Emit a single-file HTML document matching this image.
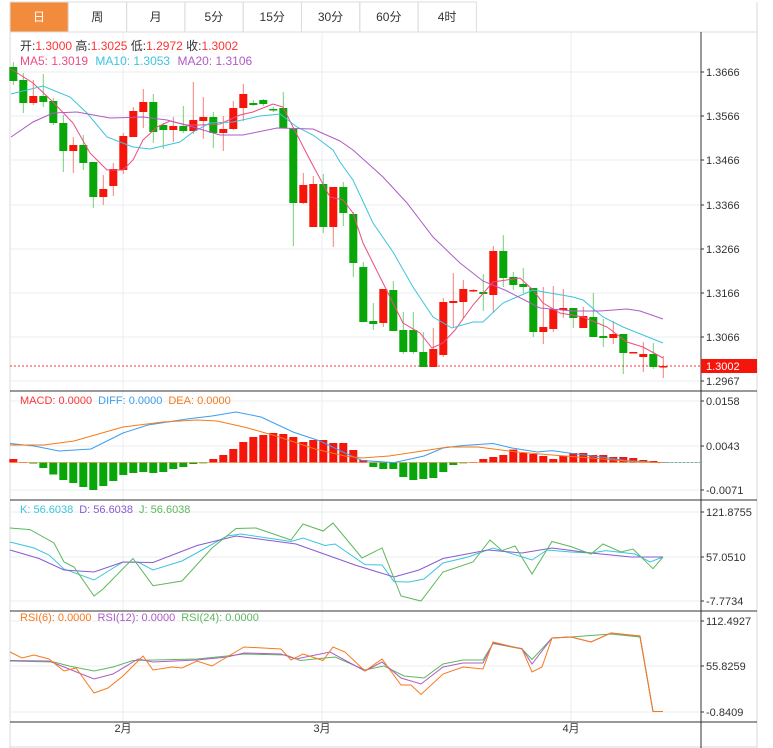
<!DOCTYPE html>
<html><head><meta charset="utf-8"><style>
body{margin:0;background:#fff;}
svg{display:block;font-family:"Liberation Sans","Noto Sans CJK SC",sans-serif;}
</style></head><body>
<svg id="s" width="773" height="748" xmlns="http://www.w3.org/2000/svg"></svg>
<script>
var s=document.getElementById('s');var h='';
function L(x1,y1,x2,y2,c,w,d,o){h+='<line x1="'+x1+'" y1="'+y1+'" x2="'+x2+'" y2="'+y2+'" stroke="'+c+'" stroke-width="'+(w||1)+'"'+(d?' stroke-dasharray="'+d+'"':'')+(o?' opacity="'+o+'"':'')+'/>';}
function R(x,y,w,hh,c,o){h+='<rect x="'+x+'" y="'+y+'" width="'+w+'" height="'+hh+'" fill="'+c+'"'+(o?' opacity="'+o+'"':'')+'/>';}
function T(x,y,t,c,sz,a){h+='<text x="'+x+'" y="'+y+'" fill="'+c+'" font-size="'+(sz||11)+'"'+(a?' text-anchor="'+a+'"':'')+'>'+t+'</text>';}
function P(pts,c,w){var d=pts.map(function(p,i){return (i?'L':'M')+p[0]+' '+p[1]}).join(' ');h+='<path d="'+d+'" fill="none" stroke="'+c+'" stroke-width="'+(w||1)+'"/>';}
var tabs=['日','周','月','5分','15分','30分','60分','4时'];
for(var i=0;i<8;i++){var x=10+i*58.3;
 if(i==0)R(x,2,58.3,30,'#f28c3c');
 h+='<rect x="'+x+'" y="2" width="58.3" height="30" fill="none" stroke="#dcdcdc"/>';
 T(x+29,21,tabs[i],i==0?'#fff':'#333',12,'middle');}
L(476,32,757,32,'#dcdcdc');
L(10,32,10,748,'#d8d8d8');L(757,2,757,748,'#d8d8d8');L(10,747,757,747,'#d8d8d8');
var g='#e8eef2';
[72,116,160,205,249,293,337,381].forEach(function(y){L(10,y,701,y,g)});
[401,446,490,512,557,601,621,666,712].forEach(function(y){L(10,y,701,y,g)});
[123,322,571].forEach(function(x){L(x,32,x,722,g)});
[391,500,611,722].forEach(function(y){L(10,y,757,y,'#333')});
L(701,32,701,748,'#333');
var al=[[72,'1.3666'],[116,'1.3566'],[160,'1.3466'],[205,'1.3366'],[249,'1.3266'],[293,'1.3166'],[337,'1.3066'],[381,'1.2967'],
[401,'0.0158'],[446,'0.0043'],[490,'-0.0071'],[512,'121.8755'],[557,'57.0510'],[601,'-7.7734'],[621,'112.4927'],[666,'55.8259'],[712,'-0.8409']];
al.forEach(function(a){L(701,a[0],704,a[0],'#333');T(706,a[0]+4,a[1],'#333',11);});
L(10,366,701,366,'#f33','1','2,2');
R(701,359,56,14,'#f5150a');T(706,370,'1.3002','#fff',11);
T(123,732,'2月','#333',11,'middle');T(322,732,'3月','#333',11,'middle');T(571,732,'4月','#333',11,'middle');
var C=[[67,81,62,85,'g'],[80,103,73,113,'g'],[96,103,80,105,'r'],[96,102,74,107,'g'],[101,123,98,125,'g'],[123,151,115,172,'g'],[145,151,137,173,'r'],[145,163,135,170,'g'],[162,197,162,208,'g'],[189,197,175,205,'r'],
[169,186,163,196,'r'],[136,170,133,174,'r'],[111,137,107,137,'r'],[102,112,89,128,'r'],[102,132,94,143,'g'],[125,130,123,149,'g'],[126,130,117,142,'r'],[126,131,106,133,'g'],[120,131,82,134,'r'],[117,121,97,139,'r'],
[117,133,112,148,'g'],[129,133,116,151,'r'],[108,129,101,130,'r'],[94,108,84,121,'r'],[103,105,100,106,'g'],[100,104,99,106,'g'],[109,110,107,112,'g'],[108,128,92,128,'g'],[128,203,128,246,'g'],[185,203,173,204,'r'],
[184,227,176,227,'r'],[184,227,174,233,'g'],[187,227,187,247,'r'],[187,213,182,226,'g'],[214,263,212,277,'g'],[267,322,262,322,'g'],[321,324,303,330,'g'],[289,323,289,327,'r'],[290,331,281,331,'g'],[330,352,312,354,'g'],
[330,352,312,354,'g'],[352,367,332,367,'g'],[349,367,328,367,'r'],[302,355,298,357,'r'],[301,303,273,327,'r'],[289,302,280,318,'r'],[290,291,289,292,'r'],[292,294,274,311,'g'],[251,295,246,313,'r'],[251,278,235,287,'g'],
[277,285,272,290,'g'],[284,287,268,293,'g'],[288,332,288,337,'g'],[327,332,287,344,'r'],[309,329,286,332,'r'],[308,310,289,318,'r'],[308,318,308,328,'g'],[316,328,307,328,'r'],[317,337,293,337,'g'],[336,338,319,347,'g'],
[334,338,321,344,'r'],[334,353,334,374,'g'],[352,353,352,353,'r'],[354,357,342,372,'r'],[354,367,343,369,'g'],[366,367,356,378,'r']];
C.forEach(function(c,i){var x=13.3+10*i;var col=c[4]=='r'?'#f5150a':'#08a608';
 L(x,c[2],x,c[3],col,1,null,0.55);R(x-4,c[0],8,Math.max(1.5,c[1]-c[0]),col);});
P([[11,69],[33,83],[53,102],[73,123],[90,153],[107,170],[123,170],[133,160],[143,140],[157,127],[170,121],[187,125],[200,125],[220,124],[240,115],[253,112],[273,104],[283,107],[293,127],[310,160],[330,197],[343,200],[353,213],[363,243],[383,283],[403,323],[420,333],[432,348],[443,343],[455,330],[473,305],[493,282],[520,278],[533,290],[543,303],[560,313],[583,317],[607,327],[627,342],[643,347],[663,358]],'#ee4b82');
P([[11,94],[43,86],[70,97],[87,113],[107,137],[133,147],[150,149],[180,142],[193,132],[210,123],[233,122],[260,116],[280,114],[297,127],[313,135],[333,150],[340,162],[353,180],[373,223],[393,252],[413,287],[433,317],[452,328],[473,322],[483,322],[503,303],[533,290],[573,297],[583,300],[603,317],[623,327],[663,343]],'#3cc4dc');
P([[11,137],[33,122],[53,113],[77,112],[110,118],[143,117],[167,120],[193,127],[220,135],[243,135],[277,128],[313,129],[340,141],[353,150],[383,177],[407,203],[433,237],[460,263],[483,281],[507,291],[540,308],[573,311],[600,311],[627,309],[640,311],[663,319]],'#b05ac8');
h+='<text x="20" y="50" font-size="12" fill="#333">开:<tspan fill="#f33">1.3000</tspan>  高:<tspan fill="#f33">1.3025</tspan>  低:<tspan fill="#f33">1.2972</tspan>  收:<tspan fill="#f33">1.3002</tspan></text>';
h+='<text x="20" y="65" font-size="12"><tspan fill="#ee4b82">MA5: 1.3019</tspan>  <tspan fill="#3cc4dc" dx="4">MA10: 1.3053</tspan>  <tspan fill="#b05ac8" dx="4">MA20: 1.3106</tspan></text>';
h+='<text x="20" y="404" font-size="11"><tspan fill="#f33">MACD: 0.0000</tspan><tspan fill="#3d9df0" dx="6">DIFF: 0.0000</tspan><tspan fill="#f77a1a" dx="6">DEA: 0.0000</tspan></text>';
h+='<text x="20" y="513" font-size="11"><tspan fill="#3cc4dc">K: 56.6038</tspan><tspan fill="#8a5ad0" dx="6">D: 56.6038</tspan><tspan fill="#5cb85c" dx="6">J: 56.6038</tspan></text>';
h+='<text x="20" y="621" font-size="11"><tspan fill="#f77a1a">RSI(6): 0.0000</tspan><tspan fill="#b05ac8" dx="6">RSI(12): 0.0000</tspan><tspan fill="#5cb85c" dx="6">RSI(24): 0.0000</tspan></text>';
var M=[459,462,463.5,468,474.5,480,483,487,490,486,481,475,473,472,473,472,469,467,464,463,459,455,449,442,437,435,433,434,437,442,440,440,443,443,450,460,467,469,469,477,480,479,478,472,465,463,462,459,457,455,449.6,453,454,456,459,456,453,453,455,455,457,457,458,460,461,462];
var Z=462.5;
M.forEach(function(v,i){var x=13.3+10*i;if(v<Z)R(x-4,v,8,Z-v,'#f5150a');else R(x-4,Z,8,Math.max(0.8,v-Z),'#08a608');});
L(10,Z,700,Z,'#f77a1a',0.6);
L(663,Z,700,Z,'#3cc4dc',1,'2,2');
P([[10,443.5],[34,446],[59,451],[91,449],[123,433],[148,425],[187,419],[212,416],[236,412],[261,417],[293,432],[320,441],[345,453],[362,460.5],[394,462.6],[424,456],[443,448],[463,445.5],[493,443.5],[512,448],[537,452],[552,450.6],[576,454],[601,457],[626,460.5],[660,462.6]],'#3d9df0');
P([[10,445],[44,445],[74,441],[123,427],[163,422],[197,420],[217,421],[246,427.5],[276,436],[315,449],[345,456],[362,458],[389,456],[429,450],[448,447],[478,447],[517,452],[552,455],[591,458],[631,461.5],[660,462.6]],'#f77a1a');
P([[10,542],[34,548],[49,555],[64,569],[94,580],[123,562],[138,562],[153,570],[182,561],[202,550],[227,536],[241,534],[291,541.5],[303,538],[325,545.5],[335,544],[365,564.6],[382,565],[394,581.6],[409,582],[424,579],[443,563],[468,557],[493,548],[502,550.6],[532,560],[547,550],[571,552],[591,553],[606,550.6],[635,554],[650,562],[663,557]],'#3cc4dc');
P([[10,550],[39,558.5],[64,570],[94,572],[123,562],[153,562.5],[197,545.5],[236,536],[296,544],[355,565],[394,577],[419,570],[443,558.5],[488,550],[522,553],[552,548],[591,553],[631,557],[663,557]],'#8a5ad0');
P([[10,528],[30,529.6],[54,543],[64,562],[74,567],[94,596],[103,589],[133,558.5],[153,585.7],[182,581],[212,548],[236,528.5],[256,528],[291,540],[303,524],[323,531],[333,523],[362,558],[382,548],[401,596],[421,601],[443,572],[473,562],[490,540],[502,550.6],[515,546],[532,574],[552,541.5],[571,546.6],[591,554],[603,544],[621,552],[633,549],[653,568.7],[663,557]],'#5cb85c');
P([[10,661],[54,662],[69,666],[94,671],[113,667],[133,660.5],[197,659],[227,656],[244,654],[286,655],[300,660.5],[335,657],[365,670],[384,666],[404,676],[424,678],[443,664],[463,660],[483,660],[493,643.5],[522,649],[532,659.5],[552,638],[571,637],[611,634],[640,637],[653,711.5],[663,711.5]],'#5cb85c');
P([[10,660.5],[49,661],[64,667],[94,679],[113,674],[138,659],[153,662],[197,660],[227,657],[244,653],[281,654],[296,659],[330,652],[365,671],[382,662],[401,678],[421,684],[443,667],[463,663],[483,663],[493,643],[522,648.6],[532,664],[552,638],[571,637],[591,642],[611,633],[640,636],[653,711.5],[663,711.5]],'#b05ac8');
P([[10,652],[22,658],[34,655],[49,659],[64,671],[76,668],[94,693],[108,688],[123,676],[143,656],[153,670],[172,667],[182,668],[197,661],[212,666],[227,657],[244,647],[281,649],[291,660],[303,654],[323,660.5],[333,647],[345,652],[365,671],[382,659],[401,685],[411,685],[421,694.5],[443,674],[463,667],[483,669],[493,642],[522,649],[532,672],[542,667],[552,638],[571,637],[591,642],[611,633],[640,636],[653,711.5],[663,711.5]],'#f77a1a');
s.innerHTML=h;
</script>
</body></html>
